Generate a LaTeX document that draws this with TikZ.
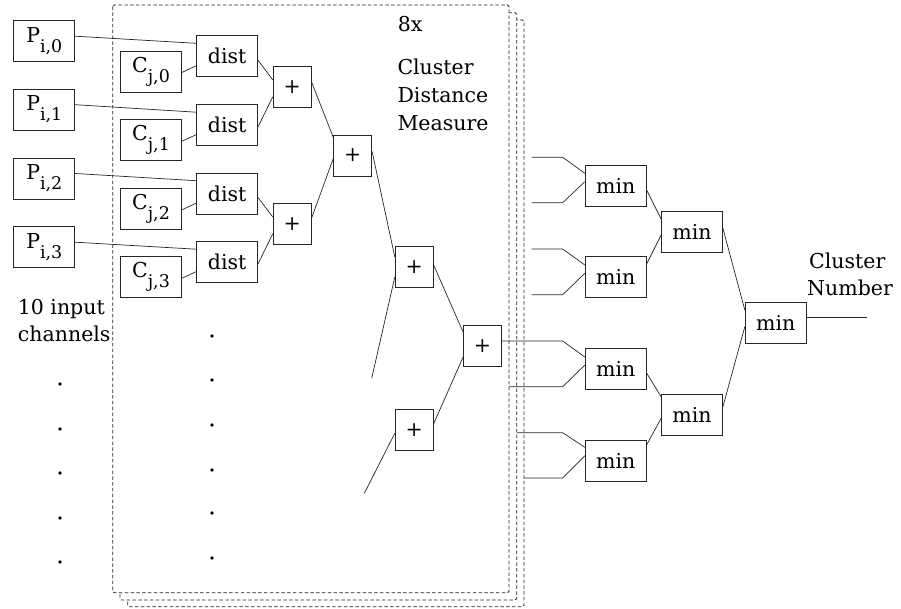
\documentclass[tikz,border=0pt]{standalone}
\usepackage{fontspec}
\setmainfont{DejaVu Serif}
\newcommand\sbs[1]{\raisebox{-10pt}{\fontsize{17.5}{17.5}\selectfont #1}}
\tikzset{
  box/.style={draw=black!85, line width=0.8pt, minimum width=61pt, minimum height=41pt, inner sep=0pt, font=\fontsize{20.5}{24}\selectfont},
  pbox/.style={box, minimum width=38pt},
  wire/.style={draw=black!85, line width=0.7pt},
  frame/.style={draw=black!85, line width=0.8pt, dash pattern=on 3.5pt off 2.3pt, fill=white, rounded corners=1.5pt},
  lbl/.style={inner sep=0pt, font=\fontsize{20.5}{24}\selectfont},
  dot/.style={fill=black}
}
\begin{document}
\begin{tikzpicture}[x=1pt,y=-1pt]
\useasboundingbox (0,0) rectangle (901,608);
% stacked frames
\draw[frame] (127.7,20) rectangle (524,606.7);
\draw[frame] (120,12.7) rectangle (516.7,600);
\draw[frame] (112.7,5) rectangle (509,592.7);

% inputs
\node[box] (P0) at (44.3,41.2) {P\sbs{i,0}};
\node[box] (P1) at (44.3,109.7) {P\sbs{i,1}};
\node[box] (P2) at (44.3,178.5) {P\sbs{i,2}};
\node[box] (P3) at (44.3,247.2) {P\sbs{i,3}};
\node[box] (C0) at (151,71.5) {C\sbs{j,0}};
\node[box] (C1) at (151,140.2) {C\sbs{j,1}};
\node[box] (C2) at (151,208.8) {C\sbs{j,2}};
\node[box] (C3) at (151,277.3) {C\sbs{j,3}};
\node[box] (d0) at (227.2,56.3) {dist};
\node[box] (d1) at (227.2,125.2) {dist};
\node[box] (d2) at (227.2,193.7) {dist};
\node[box] (d3) at (227.2,262.2) {dist};
\node[pbox] (a1) at (292.2,87) {+};
\node[pbox] (a2) at (292.2,224) {+};
\node[pbox] (b) at (352.7,155.5) {+};
\node[pbox] (c1) at (414.2,267) {+};
\node[pbox] (c2) at (414.2,429.8) {+};
\node[pbox] (e) at (482.5,346) {+};

\node[box] (mA) at (615.7,186) {min};
\node[box] (mB) at (615.7,277.3) {min};
\node[box] (mC) at (615.7,369) {min};
\node[box] (mD) at (615.7,460.7) {min};
\node[box] (mAB) at (692,231.7) {min};
\node[box] (mCD) at (692,414.7) {min};
\node[box] (mF) at (775.7,323) {min};

% free ends
\coordinate (f1) at (371.7,378.3);
\coordinate (f2) at (364.3,493.3);
\coordinate (iA1) at (531.7,157.3);
\coordinate (iA2) at (531.7,202.7);
\coordinate (iB1) at (531.7,249);
\coordinate (iB2) at (531.7,294.7);
\coordinate (kC) at (562.7,341);
\coordinate (iC2) at (509,386.7);
\coordinate (iD1) at (517,432.7);
\coordinate (iD2) at (524,478);
\coordinate (out) at (866.7,317.7);

% wires
\path[wire] ([yshift=5pt]P0.east) -- ([yshift=13pt]d0.west);
\path[wire] ([yshift=5pt]P1.east) -- ([yshift=13pt]d1.west);
\path[wire] ([yshift=5pt]P2.east) -- ([yshift=13pt]d2.west);
\path[wire] ([yshift=5pt]P3.east) -- ([yshift=13pt]d3.west);
\path[wire] ([yshift=-1pt]C0.east) -- ([yshift=-9.4pt]d0.west);
\path[wire] ([yshift=-1pt]C1.east) -- ([yshift=-9.4pt]d1.west);
\path[wire] ([yshift=-1pt]C2.east) -- ([yshift=-9.4pt]d2.west);
\path[wire] ([yshift=-1pt]C3.east) -- ([yshift=-9.4pt]d3.west);
\path[wire] ([yshift=-4pt]d0.east) -- ([yshift=7pt]a1.west);
\path[wire] ([yshift=-1.5pt]d1.east) -- ([yshift=-9.7pt]a1.west);
\path[wire] ([yshift=-4pt]d2.east) -- ([yshift=7pt]a2.west);
\path[wire] ([yshift=-1.5pt]d3.east) -- ([yshift=-9.7pt]a2.west);
\path[wire] ([yshift=5pt]a1.east) -- ([yshift=18pt]b.west);
\path[wire] ([yshift=6pt]a2.east) -- ([yshift=-3pt]b.west);
\path[wire] ([yshift=4pt]b.east) -- ([yshift=10pt]c1.west);
\path[wire] ([yshift=-10pt]c1.west) -- (f1);
\path[wire] ([yshift=2pt]c1.east) -- ([yshift=14pt]e.west);
\path[wire] ([yshift=6pt]c2.east) -- ([yshift=-11pt]e.west);
\path[wire] ([yshift=-3.5pt]c2.west) -- (f2);

\path[wire] (iA1) -- ++(31,0) -- ([yshift=12.7pt]mA.west);
\path[wire] (iA2) -- ++(31,0) -- ([yshift=4.3pt]mA.west);
\path[wire] (iB1) -- ++(31,0) -- ([yshift=12.3pt]mB.west);
\path[wire] (iB2) -- ++(31,0) -- ([yshift=4pt]mB.west);
\path[wire] ([yshift=5pt]e.east) -- (kC) -- ([yshift=12pt]mC.west);
\path[wire] (iC2) -- ++(53.7,0) -- ([yshift=4pt]mC.west);
\path[wire] (iD1) -- ++(45.7,0) -- ([yshift=13.4pt]mD.west);
\path[wire] (iD2) -- ++(38.7,0) -- ([yshift=5pt]mD.west);

\path[wire] ([yshift=-4pt]mA.east) -- ([yshift=12.7pt]mAB.west);
\path[wire] ([yshift=13.3pt]mB.east) -- ([yshift=-3.3pt]mAB.west);
\path[wire] ([yshift=-4pt]mC.east) -- ([yshift=18pt]mCD.west);
\path[wire] ([yshift=15.7pt]mD.east) -- ([yshift=-3.6pt]mCD.west);
\path[wire] ([yshift=3.4pt]mAB.east) -- ([yshift=13pt]mF.west);
\path[wire] ([yshift=8pt]mCD.east) -- ([yshift=-3.7pt]mF.west);
\path[wire] ([yshift=5.3pt]mF.east) -- (out);

% labels
\node[lbl, anchor=base west] (t8x) at (397.7,31) {8x};
\node[lbl, anchor=base west] (tcl) at (397.3,74) {Cluster};
\node[lbl, anchor=base west] (tdi) at (397.3,102) {Distance};
\node[lbl, anchor=base west] (tme) at (397.3,130) {Measure};
\node[lbl, anchor=base west] (tcn1) at (809,268.3) {Cluster};
\node[lbl, anchor=base west] (tcn2) at (807,295) {Number};
\node[lbl, anchor=base east] (tin1) at (105,314.3) {10 input};
\node[lbl, anchor=base east] (tin2) at (110.7,341.7) {channels};

% dots
\foreach \y in {384,429,473,518,562} \fill[dot] (60,\y) circle (1.8pt);
\foreach \y in {336,380,425,470,513,558} \fill[dot] (212,\y) circle (1.8pt);
\end{tikzpicture}
\end{document}
